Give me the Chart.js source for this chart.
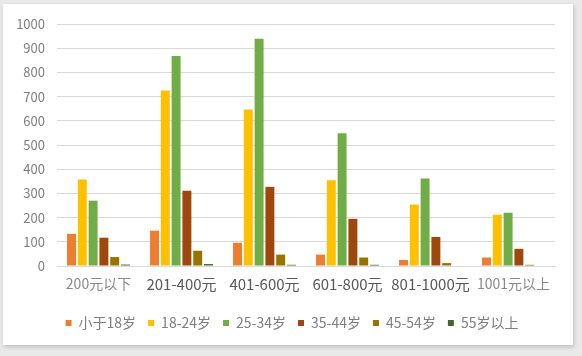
<!DOCTYPE html>
<html>
<head>
<meta charset="utf-8">
<script src="https://cdn.jsdelivr.net/npm/chart.js@4/dist/chart.umd.min.js"></script>
<style>
  html, body { margin: 0; padding: 0; }
  body { width: 582px; height: 356px; background: #e9e9e9; position: relative; overflow: hidden; }
  #card { position: absolute; left: 3px; top: 4px; width: 570px; height: 341px; background: #ffffff;
          box-shadow: 1px 2px 4px rgba(0,0,0,0.18); }
  #card canvas { position: absolute; left: 0; top: 0; }
</style>
</head>
<body>
<div id="card"><canvas id="c" width="570" height="341"></canvas></div>
<script>
const categories = ["200元以下", "201-400元", "401-600元", "601-800元", "801-1000元", "1001元以上"];
const seriesNames = ["小于18岁", "18-24岁", "25-34岁", "35-44岁", "45-54岁", "55岁以上"];
const seriesColors = ["#ED7D31", "#FFC000", "#70AD47", "#9E480E", "#997300", "#43682B"];
const under18 = [133, 146, 96, 47, 25, 35];
const age18_24 = [357, 725, 647, 354, 254, 212];
const age25_34 = [270, 868, 939, 549, 362, 220];
const age35_44 = [117, 311, 327, 195, 120, 71];
const age45_54 = [37, 63, 47, 35, 12, 5];
const age55up = [6, 8, 5, 5, 0, 0];
const seriesValues = [under18, age18_24, age25_34, age35_44, age45_54, age55up];
const yTicks = [0, 100, 200, 300, 400, 500, 600, 700, 800, 900, 1000];

const datasets = seriesNames.map((name, si) => ({
  label: name,
  data: seriesValues[si],
  backgroundColor: seriesColors[si],
  borderWidth: 0,
  categoryPercentage: 0.78,
  barPercentage: 0.83
}));

const FONT = "'Noto Sans CJK SC', 'Noto Sans', sans-serif";

// shift the legend block a little to the right, as in the reference
const legendShift = {
  id: 'legendShift',
  afterLayout(chart) {
    if (chart.legend) { chart.legend.left += 9; chart.legend.right += 9; }
  }
};

new Chart(document.getElementById('c'), {
  type: 'bar',
  data: { labels: categories, datasets },
  plugins: [legendShift],
  options: {
    responsive: false,
    animation: false,
    events: [],
    layout: { padding: { left: 8, right: 18, top: 20, bottom: 5 } },
    plugins: {
      tooltip: { enabled: false },
      legend: {
        position: 'bottom',
        labels: {
          boxWidth: 6, boxHeight: 6, padding: 12,
          color: '#7f7f7f',
          font: { family: FONT, size: 14 }
        }
      }
    },
    scales: {
      x: {
        grid: { display: false, drawTicks: false },
        border: { display: true, color: '#d9d9d9' },
        ticks: {
          padding: 9,
          maxRotation: 0, minRotation: 0, autoSkip: false,
          color: (ctx) => (ctx.index === 0 || ctx.index === 5) ? '#8a8a8a' : '#595959',
          font: (ctx) => (ctx.index === 0 || ctx.index === 5)
            ? { family: FONT, size: 14 }
            : { family: FONT, size: 15 }
        },
        afterFit: (s) => { s.height = 38; }
      },
      y: {
        min: 0, max: 1000,
        afterBuildTicks: (s) => { s.ticks = yTicks.map(v => ({ value: v })); },
        grid: { color: '#d9d9d9', drawTicks: false },
        border: { display: false },
        ticks: {
          padding: 12,
          color: '#7f7f7f',
          font: { family: FONT, size: 13 },
          callback: (v) => String(v)
        },
        afterFit: (s) => { s.width = 46; }
      }
    }
  }
});
</script>
</body>
</html>
